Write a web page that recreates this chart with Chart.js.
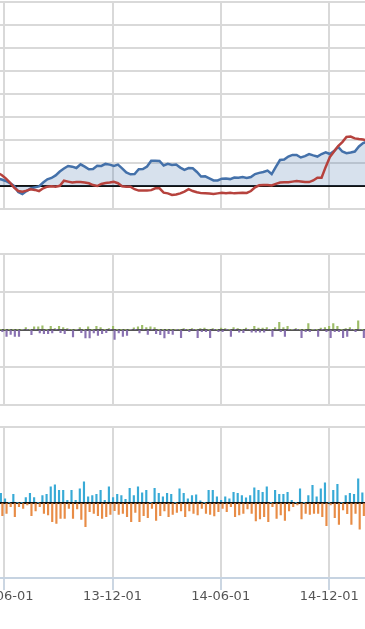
<!DOCTYPE html>
<html>
<head>
<meta charset="utf-8">
<script src="https://cdn.jsdelivr.net/npm/chart.js@4.4.1/dist/chart.umd.min.js"></script>
<style>
  html, body { margin: 0; padding: 0; background: #fff; }
  body { width: 365px; height: 629px; position: relative; overflow: hidden; }
  canvas { position: absolute; left: 0; }
</style>
</head>
<body>
<canvas id="levelChart" width="365" height="212" style="top:0px"></canvas>
<canvas id="spreadChart" width="365" height="156" style="top:252px"></canvas>
<canvas id="flowChart" width="365" height="204" style="top:425px"></canvas>
<script>
// x values are days counted from 2013-06-01, one point per week
const firstWeekDay = -11
const tickDays = [0, 183, 365, 548]
const tickLabels = ['13-06-01', '13-12-01', '14-06-01', '14-12-01']

// top panel
const blueLine = [
  0.33, 0.28, 0.22, 0.13, 0.00, -0.26, -0.35, -0.22, -0.11, -0.06,
  -0.02, 0.15, 0.29, 0.35, 0.46, 0.63, 0.76, 0.87, 0.84, 0.78,
  0.94, 0.84, 0.73, 0.74, 0.88, 0.87, 0.96, 0.93, 0.87, 0.93,
  0.77, 0.59, 0.51, 0.52, 0.73, 0.74, 0.85, 1.10, 1.10, 1.09,
  0.89, 0.96, 0.91, 0.93, 0.80, 0.70, 0.78, 0.77, 0.61, 0.41,
  0.42, 0.33, 0.24, 0.24, 0.32, 0.33, 0.30, 0.37, 0.36, 0.39,
  0.35, 0.39, 0.52, 0.57, 0.61, 0.67, 0.52, 0.83, 1.13, 1.15,
  1.28, 1.35, 1.35, 1.24, 1.30, 1.39, 1.33, 1.28, 1.39, 1.46,
  1.39, 1.52, 1.70, 1.50, 1.43, 1.46, 1.50, 1.72, 1.87, 1.93
]
const redLine = [
  0.57, 0.48, 0.33, 0.15, -0.07, -0.22, -0.25, -0.20, -0.14, -0.17,
  -0.22, -0.10, -0.03, -0.01, -0.03, 0.01, 0.23, 0.19, 0.15, 0.17,
  0.17, 0.15, 0.12, 0.04, 0.00, 0.09, 0.13, 0.15, 0.18, 0.12,
  -0.01, -0.03, -0.03, -0.14, -0.20, -0.20, -0.20, -0.18, -0.10, -0.10,
  -0.29, -0.32, -0.39, -0.37, -0.32, -0.24, -0.14, -0.22, -0.27, -0.31,
  -0.32, -0.33, -0.35, -0.32, -0.29, -0.31, -0.29, -0.32, -0.30, -0.29,
  -0.30, -0.22, -0.06, 0.03, 0.04, 0.04, 0.02, 0.09, 0.15, 0.16,
  0.16, 0.19, 0.22, 0.20, 0.17, 0.17, 0.24, 0.36, 0.36, 0.83,
  1.26, 1.50, 1.74, 1.91, 2.13, 2.15, 2.07, 2.04, 2.02, 1.98
]

// middle panel
const greenBars = [
  0, 0, 0, 0, 0, 0, 0, 2, 0, 2.7,
  2.7, 3.7, 0, 3.3, 1, 3.3, 2, 1, 0, 0,
  2, 0, 2.7, 0, 3.3, 2, 0, 1, 3.3, 0,
  0, 0, 0, 1.7, 2.7, 4.3, 2, 2.7, 2, 0,
  0, 0, 0, 0, 0, 1, 0, 1, 0, 1,
  1.5, 0, 1, 0, 1.5, 1, 0, 2, 1, 0,
  1.5, 0, 3.3, 1.5, 1.5, 2, 0, 2, 7.3, 2,
  3.3, 0, 1, 0, 0, 6, 0, 0, 1.5, 2,
  3.3, 6, 3.3, 0, 1, 2, 0, 8.7, 0, 0
]
const purpleBars = [
  0, -2, -6.7, -4.7, -6.7, -6.7, 0, 0, -5, 0,
  -3.3, -4, -4, -3.3, 0, -3, -4, 0, -7.3, 0,
  -3, -8.3, -8.3, -3.3, -5.7, -4, -3, 0, -9.7, -3.3,
  -6.7, -5.7, 0, 0, -3.3, 0, -4.7, 0, -4, -5,
  -8.3, -4, -4.7, 0, -8, 0, -2, 0, -8, -2,
  -2, -8, 0, -2, -2, 0, -6.7, 0, -2.5, -3,
  0, -2.5, -2.5, -2.5, -2.5, 0, -6.7, 0, -2, -6.7,
  0, 0, 0, -8, -2, -2, 0, -6.7, 0, -2,
  -8, -2, -2, -8, -6.7, 0, -2, 0, -8, 0
]

// bottom panel
const blueBars = [
  0, 9.3, 3.7, 0, 8.3, 0, 0, 5, 9.3, 5,
  0, 7, 8.3, 15.7, 17.7, 12.3, 12.3, 2.3, 12.3, 2.3,
  13.7, 20.7, 5.7, 7, 8.3, 12.3, 2.3, 15.7, 5, 8.3,
  7, 3.3, 14.3, 7, 15.7, 9.7, 12.3, 0, 14.3, 9.3,
  5.7, 9.3, 8.3, 0, 13.7, 9.3, 3.7, 7, 7.7, 1.7,
  0, 12.3, 12.3, 5.7, 2.3, 5.7, 3.7, 10.3, 9.3, 7,
  4.7, 7, 14.7, 12.3, 10.3, 15.7, 0, 12.3, 8.3, 8.3,
  10.3, 2.3, 0, 13.7, 0, 7, 17.3, 5.7, 13.7, 19.7,
  0, 12.3, 18.3, 0, 7, 9.3, 8.3, 23.7, 9.7, 0
]
const orangeBars = [
  0, -13, -10.7, -4, -14, -4, -5.7, -2.3, -13, -8.3,
  -4, -10.7, -12.3, -19, -20.7, -15.7, -15.7, -5.7, -15.7, -6.3,
  -16.7, -24, -9, -10.7, -13, -15.7, -14, -11.7, -8, -11.7,
  -10.7, -14, -19, -9.7, -19, -13, -15, -5.7, -17.7, -13,
  -8.3, -14, -11.7, -9.7, -8.3, -14, -8.3, -10.7, -12.3, -5.7,
  -10.7, -11.7, -13.3, -9, -5.7, -9, -4, -14, -12.3, -10.7,
  -6.3, -10.7, -18.3, -16.3, -14, -19, -4, -15.7, -12.3, -17.7,
  -8.3, -4, -2.3, -16.3, -10.7, -11.7, -10.7, -10.7, -14, -23,
  -2.3, -15, -21.7, -7.3, -11, -21.7, -10.7, -26.3, -13, 0
]

const weekDays = blueLine.map((_, i) => firstWeekDay + 7 * i)
const toPoints = values => values.map((v, i) => ({ x: weekDays[i], y: v }))

Chart.defaults.font.family = 'DejaVu Sans'

const gridGray = '#d9d9d9'
const isZero = ctx => ctx.tick && Math.abs(ctx.tick.value) < 1e-6

function xScale(showLabels) {
  return {
    type: 'linear',
    min: -6.74,
    max: 608.2,
    offset: false,
    afterBuildTicks: axis => { axis.ticks = tickDays.map(v => ({ value: v })) },
    // the edge labels are cut by the canvas, so they must not shrink the plot
    afterFit: axis => {
      axis.paddingLeft = 0
      axis.paddingRight = 0
    },
    grid: {
      offset: false,
      color: gridGray,
      lineWidth: 2,
      drawTicks: showLabels,
      tickLength: 12,
      tickColor: '#cbd6e2'
    },
    border: { display: showLabels, color: '#c6d3e1', width: 2 },
    ticks: {
      display: showLabels,
      autoSkip: false,
      maxRotation: 0,
      minRotation: 0,
      padding: 0,
      color: '#555',
      font: { size: 13, lineHeight: 1 },
      callback: (value, index) => tickLabels[index]
    }
  }
}

function yScale(min, max, step, zeroColor) {
  return {
    min,
    max,
    grid: {
      drawTicks: false,
      color: ctx => isZero(ctx) ? zeroColor : gridGray,
      lineWidth: 2
    },
    border: { display: false },
    ticks: { display: false, stepSize: step }
  }
}

const baseOptions = (padding, xs, ys) => ({
  responsive: false,
  animation: false,
  layout: { autoPadding: false, padding },
  plugins: { legend: { display: false }, tooltip: { enabled: false } },
  scales: { x: xs, y: ys }
})

new Chart(document.getElementById('levelChart'), {
  type: 'line',
  data: {
    datasets: [
      {
        label: 'red',
        data: toPoints(redLine),
        borderColor: '#b6423d',
        borderWidth: 2.5,
        pointRadius: 0,
        fill: false
      },
      {
        label: 'blue',
        data: toPoints(blueLine),
        borderColor: '#4471aa',
        backgroundColor: 'rgba(68, 113, 170, 0.21)',
        borderWidth: 2.5,
        pointRadius: 0,
        fill: 'origin'
      }
    ]
  },
  options: baseOptions({ top: 2, bottom: 3, left: 0, right: 0 }, xScale(false), yScale(-1, 8, 1, '#111'))
})

new Chart(document.getElementById('spreadChart'), {
  type: 'bar',
  data: {
    datasets: [
      { label: 'up', data: toPoints(greenBars), backgroundColor: '#9dbd68', barThickness: 1.5 },
      { label: 'down', data: toPoints(purpleBars), backgroundColor: '#8a72b2', barThickness: 1.5 }
    ]
  },
  options: baseOptions({ top: 2.3, bottom: 3, left: 0, right: 0 }, xScale(false), yScale(-75, 75, 37.5, '#555'))
})

new Chart(document.getElementById('flowChart'), {
  type: 'bar',
  data: {
    datasets: [
      { label: 'in', data: toPoints(blueBars), backgroundColor: '#38aad6', barThickness: 1.5 },
      { label: 'out', data: toPoints(orangeBars), backgroundColor: '#e88c46', barThickness: 1.5 }
    ]
  },
  options: baseOptions({ top: 2.3, bottom: 26, left: 0, right: 0 }, xScale(true), yScale(-75, 75, 75, '#111'))
})
</script>
</body>
</html>
